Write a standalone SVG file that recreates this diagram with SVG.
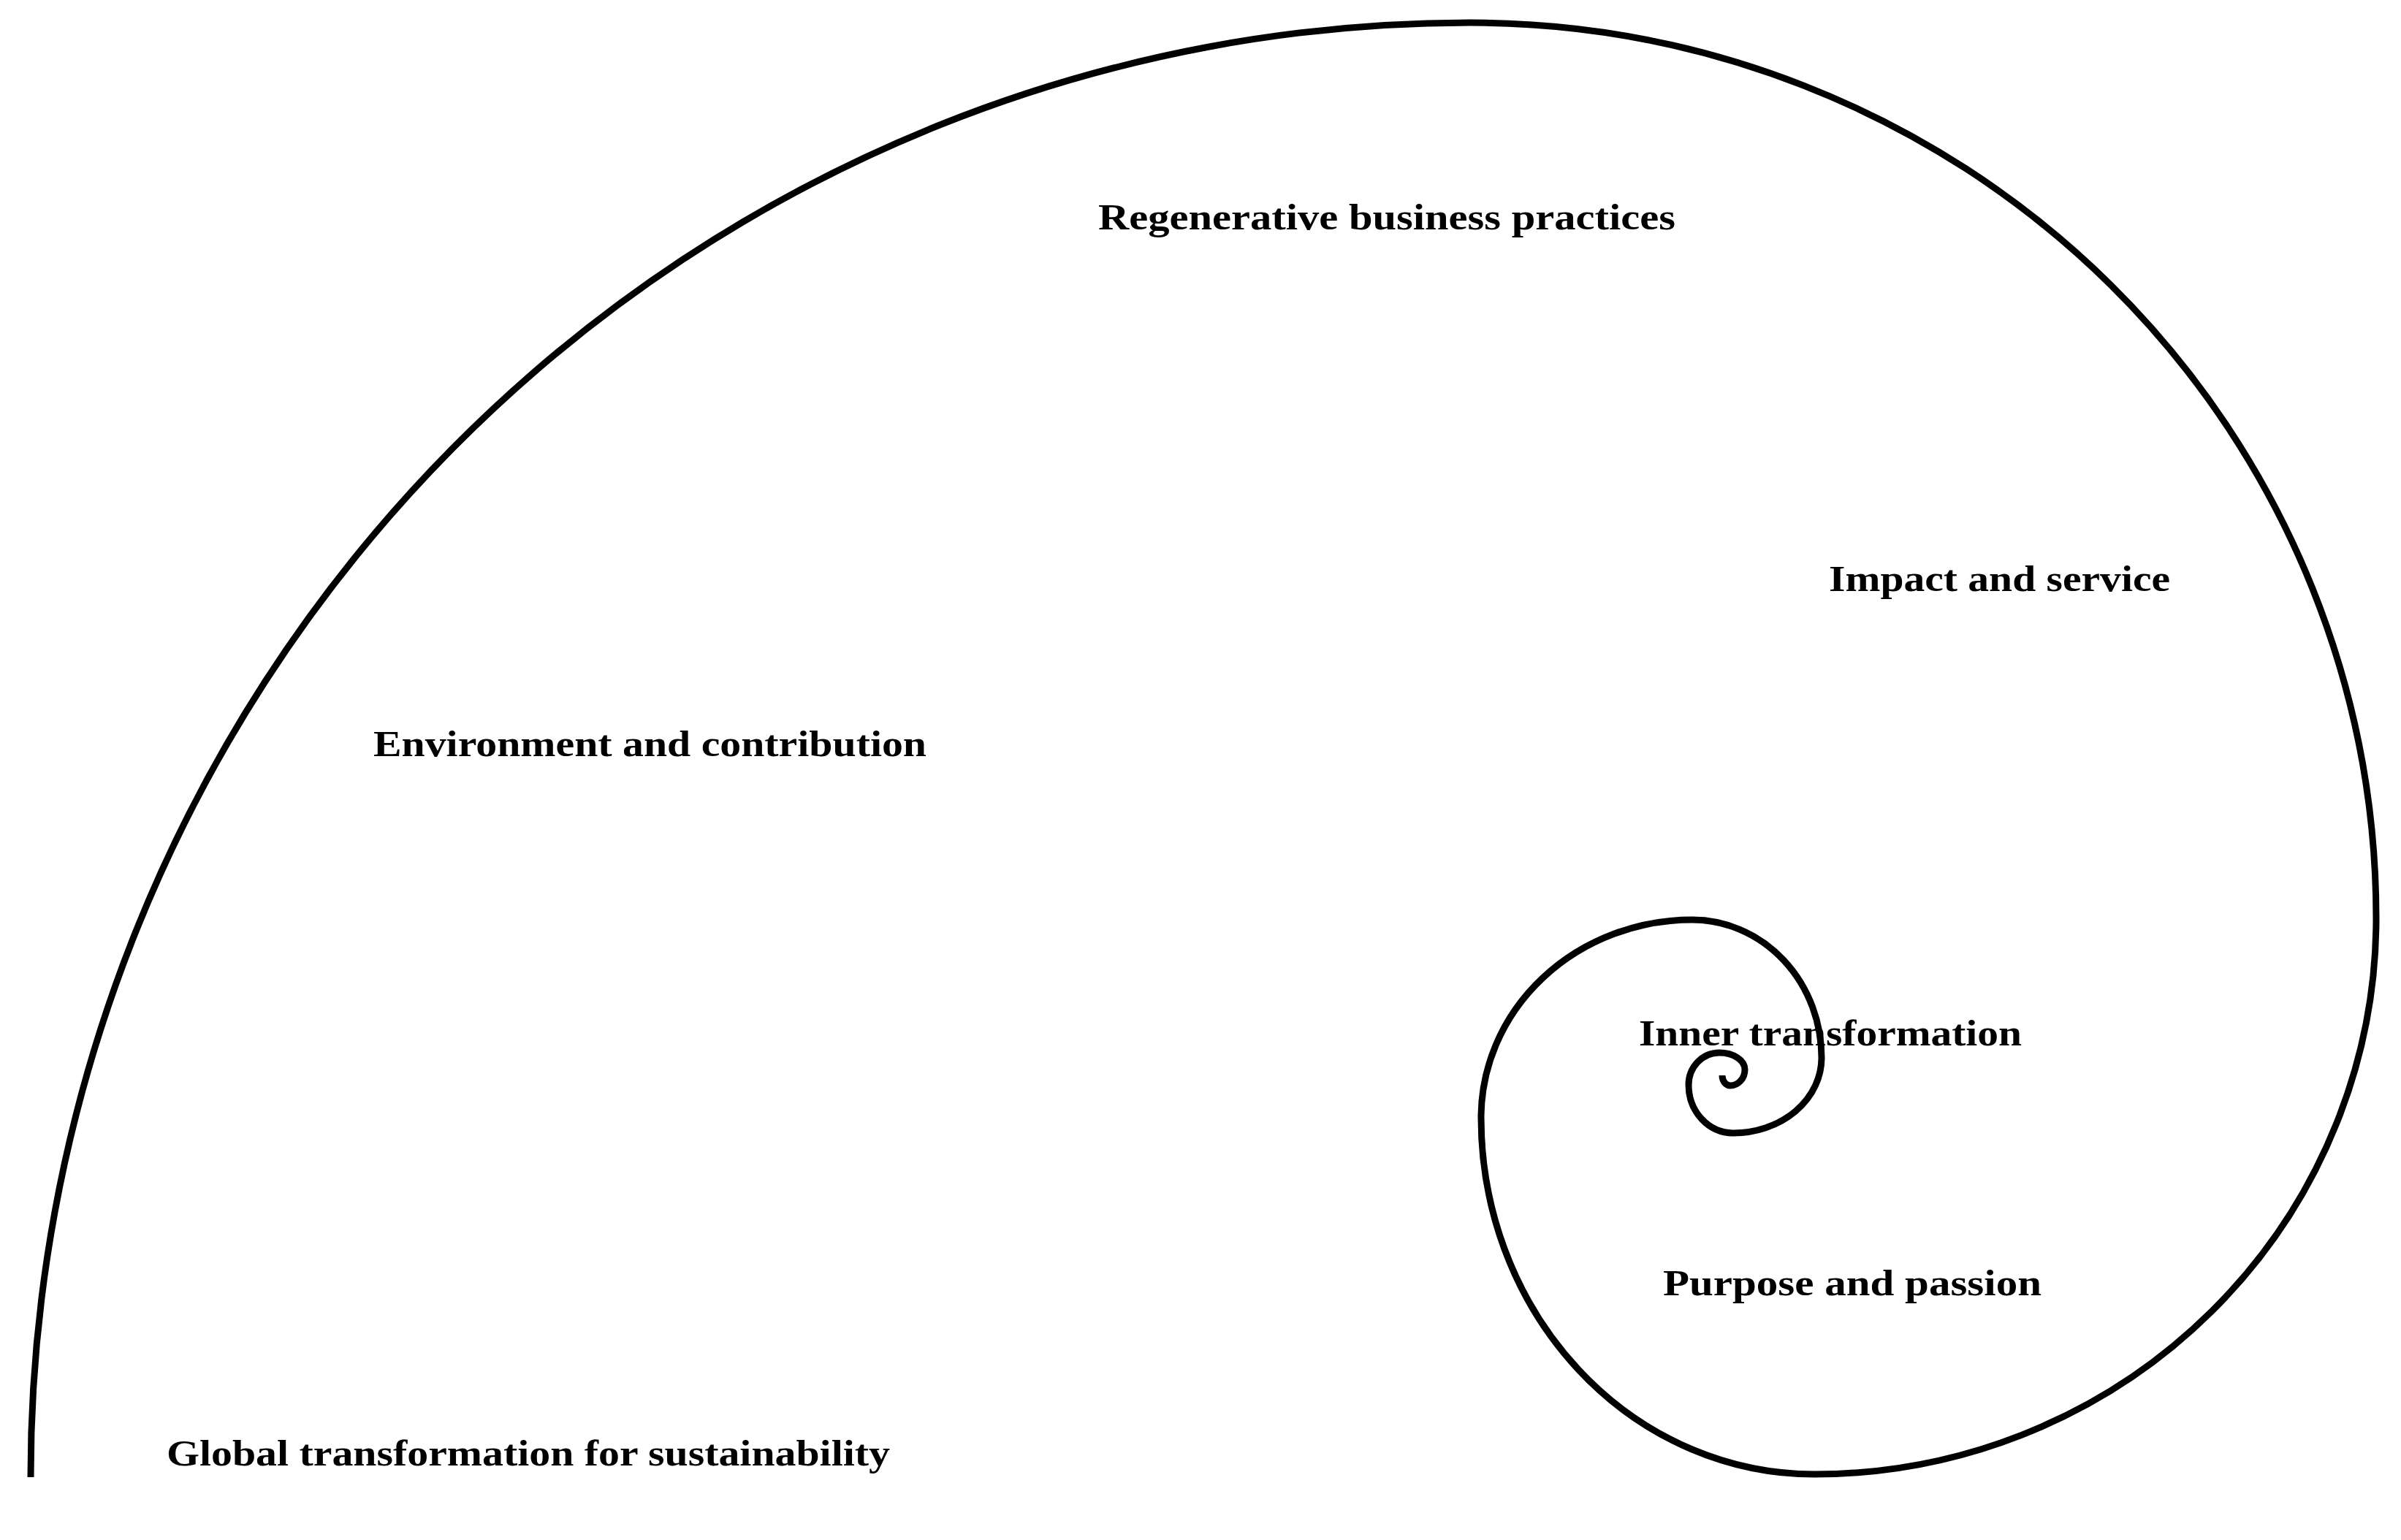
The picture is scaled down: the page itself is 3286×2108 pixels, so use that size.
<svg xmlns="http://www.w3.org/2000/svg" width="3286" height="2108" viewBox="0 0 3286 2108">
<style>
.l{font-family:"Liberation Serif",serif;font-weight:bold;font-size:50px;fill:#000}
</style>
<rect width="3286" height="2108" fill="#fff"/>
<g id="connectors">
<path d="M42 2022 A1970 1991 0 0 1 2012 31 A1240 1226 0 0 1 3252 1257 A769 761 0 0 1 2483 2018 A456 488 0 0 1 2027 1530 A289 271 0 0 1 2316 1259 A177 189 0 0 1 2493 1448 A121 103 0 0 1 2372 1551 A61 66 0 0 1 2311 1485 A42 44 0 0 1 2353 1441 A35 23 0 0 1 2388 1464 A20 22 0 0 1 2368 1486 A11 14 0 0 1 2357 1472" fill="none" stroke="#000" stroke-width="9"/>
</g>
<g id="n1"><text class="l" x="1503" y="314" textLength="790" lengthAdjust="spacingAndGlyphs">Regenerative business practices</text></g>
<g id="n2"><text class="l" x="2503" y="809" textLength="467" lengthAdjust="spacingAndGlyphs">Impact and service</text></g>
<g id="n3"><text class="l" x="511" y="1035" textLength="757" lengthAdjust="spacingAndGlyphs">Environment and contribution</text></g>
<g id="n4"><text class="l" x="2243" y="1431" textLength="524" lengthAdjust="spacingAndGlyphs">Inner transformation</text></g>
<g id="n5"><text class="l" x="2276" y="1773" textLength="518" lengthAdjust="spacingAndGlyphs">Purpose and passion</text></g>
<g id="n6"><text class="l" x="228" y="2006" textLength="990" lengthAdjust="spacingAndGlyphs">Global transformation for sustainability</text></g>
</svg>
